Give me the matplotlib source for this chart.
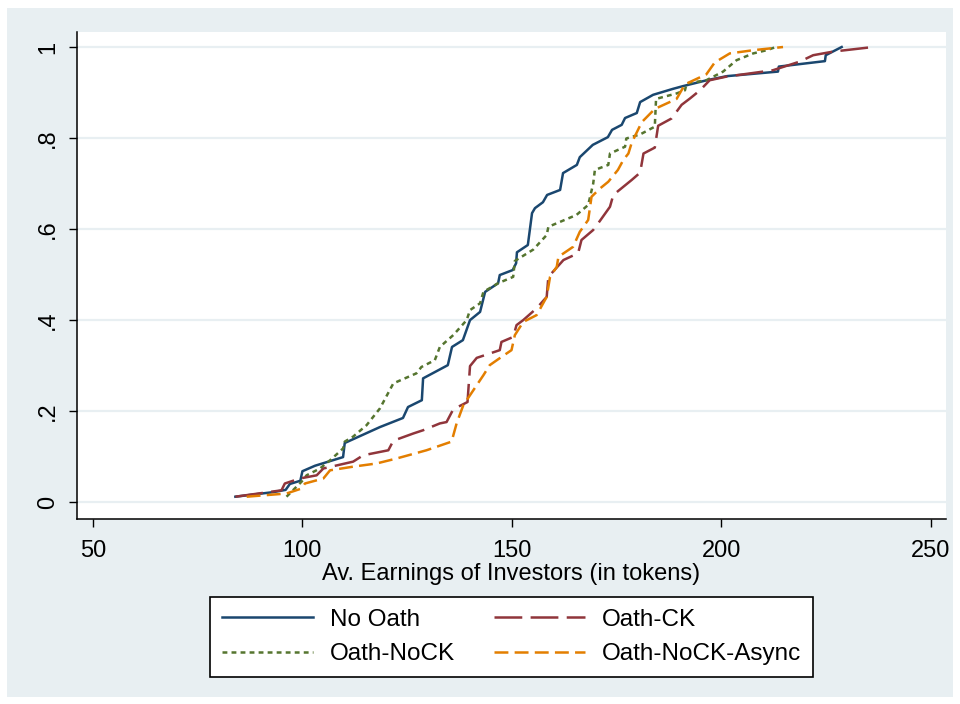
import numpy as np
import matplotlib
matplotlib.use("Agg")
import matplotlib.pyplot as plt
from matplotlib.patches import Rectangle

plt.rcParams['font.family'] = ['Liberation Sans', 'DejaVu Sans']
plt.rcParams['lines.scale_dashes'] = False

#------------------------------------------------------------------
# cumulative distribution of average investor earnings
no_oath_x = [84, 93, 96, 97, 99.5, 100, 103, 109.7, 110.1, 118.5, 124.0, 125.2, 128.5, 128.8,
             134.7, 135.7, 138.3, 140.0, 142.4, 143.6, 146.7, 147.1, 150.2, 151.0, 151.2, 153.8,
             154.8, 155.5, 157.4, 158.4, 161.5, 162.2, 165.5, 166.2, 169.3, 172.9, 173.9, 176.2,
             177.0, 179.8, 180.6, 183.7, 188.4, 190.8, 196.5, 201.3, 213.5, 213.7, 224.7, 224.9, 228.7]
no_oath_y = [0.012, 0.022, 0.027, 0.040, 0.047, 0.068, 0.080, 0.099, 0.130, 0.165, 0.185, 0.209, 0.224, 0.272,
             0.301, 0.341, 0.356, 0.400, 0.418, 0.462, 0.481, 0.499, 0.510, 0.525, 0.549, 0.565,
             0.635, 0.646, 0.659, 0.675, 0.686, 0.723, 0.741, 0.758, 0.785, 0.802, 0.818, 0.829,
             0.844, 0.855, 0.879, 0.895, 0.908, 0.914, 0.927, 0.936, 0.946, 0.957, 0.969, 0.982, 1.0]

oath_ck_x = [84, 95.0, 95.8, 99.4, 103.4, 105.0, 112.1, 114.5, 120.5, 121.7, 126.5, 128.8, 132.8, 134.4,
             136.0, 139.4, 140.0, 141.6, 147.1, 147.5, 150.3, 151.1, 152.7, 155.9, 158.3, 158.7, 162.3,
             165.8, 166.6, 169.4, 171.0, 173.4, 174.2, 178.6, 180.6, 181.4, 184.1, 184.9, 188.1, 190.5,
             192.5, 194.9, 197.2, 201.2, 206.8, 212.3, 218.7, 221.9, 226.7, 236.2]
oath_ck_y = [0.012, 0.026, 0.041, 0.052, 0.059, 0.074, 0.089, 0.103, 0.114, 0.135, 0.151, 0.158, 0.173, 0.176,
             0.204, 0.220, 0.299, 0.317, 0.334, 0.352, 0.363, 0.389, 0.400, 0.426, 0.451, 0.495, 0.532,
             0.547, 0.576, 0.598, 0.618, 0.649, 0.675, 0.708, 0.724, 0.766, 0.779, 0.827, 0.843, 0.873,
             0.887, 0.905, 0.927, 0.935, 0.942, 0.949, 0.968, 0.982, 0.990, 1.0]

oath_nock_x = [96.2, 99.8, 101.0, 104.2, 106.6, 109.7, 110.1, 112.1, 115.3, 118.5, 121.7, 127.2, 128.4,
               131.6, 132.8, 136.0, 139.2, 140.0, 142.4, 143.2, 146.7, 150.3, 150.7, 155.1, 158.3, 158.7,
               165.4, 168.2, 169.4, 169.8, 173.0, 173.4, 177.0, 177.3, 180.6, 184.1, 184.4, 189.3, 191.3,
               191.7, 196.4, 200.4, 203.6, 207.6, 210.8, 213.0]
oath_nock_y = [0.012, 0.045, 0.059, 0.074, 0.092, 0.118, 0.133, 0.144, 0.169, 0.206, 0.261, 0.283, 0.297,
               0.312, 0.341, 0.367, 0.400, 0.422, 0.437, 0.462, 0.481, 0.495, 0.530, 0.555, 0.587, 0.605,
               0.631, 0.653, 0.700, 0.730, 0.741, 0.766, 0.781, 0.799, 0.808, 0.825, 0.886, 0.898, 0.905,
               0.920, 0.927, 0.946, 0.971, 0.986, 0.993, 1.0]

async_x = [86.7, 96.2, 99.8, 100.6, 105.0, 106.6, 112.1, 117.7, 122.5, 129.6, 135.6, 136.8, 138.4, 141.6,
           143.2, 144.7, 147.5, 149.9, 150.7, 152.7, 155.9, 158.3, 159.1, 160.7, 161.1, 164.6, 166.2,
           168.2, 169.0, 171.0, 173.0, 175.3, 176.6, 177.8, 178.6, 181.0, 184.1, 189.3, 191.3, 196.4,
           198.4, 202.0, 207.6, 214.7]
async_y = [0.012, 0.019, 0.030, 0.041, 0.052, 0.070, 0.078, 0.085, 0.096, 0.114, 0.133, 0.173, 0.213, 0.257,
           0.279, 0.301, 0.319, 0.334, 0.367, 0.396, 0.411, 0.451, 0.495, 0.517, 0.539, 0.561, 0.594,
           0.620, 0.671, 0.689, 0.704, 0.730, 0.752, 0.766, 0.790, 0.835, 0.864, 0.886, 0.918, 0.940,
           0.966, 0.986, 0.993, 1.0]

x_ticks = [50, 100, 150, 200, 250]
y_ticks = [0, 0.2, 0.4, 0.6, 0.8, 1]
y_tick_labels = ["0", ".2", ".4", ".6", ".8", "1"]
#------------------------------------------------------------------

BG = '#e8eff2'
FONTSIZE = 17
LW = 1.8

fig = plt.figure(figsize=(9.6, 7.04), dpi=100)
fig.patch.set_facecolor('white')
fig.add_artist(Rectangle((7 / 960, 1 - 697 / 704), 946 / 960, 689 / 704,
                         transform=fig.transFigure, facecolor=BG, edgecolor='none', zorder=-10))

ax = fig.add_axes([77 / 960, 1 - 519 / 704, 869 / 960, 487 / 704])
ax.set_zorder(1)
ax.set_facecolor('white')

ax.plot(no_oath_x, no_oath_y, color='#1a476f', lw=LW, label='No Oath')
ax.plot(oath_nock_x, oath_nock_y, color='#55752f', lw=LW, dashes=(3.5, 3), label='Oath-NoCK')
ax.plot(oath_ck_x, oath_ck_y, color='#90353b', lw=LW, dashes=(20, 6), label='Oath-CK')
ax.plot(async_x, async_y, color='#e37e00', lw=LW, dashes=(10, 4.5), label='Oath-NoCK-Async')

ax.set_xlim(46.2, 253.6)
ax.set_ylim(-0.037, 1.033)
ax.set_xticks(x_ticks)
ax.set_yticks(y_ticks)
ax.set_yticklabels(y_tick_labels, rotation=90, va='center')
ax.tick_params(labelsize=FONTSIZE, length=6, width=1, color='black')
ax.tick_params(axis='x', pad=9)
ax.tick_params(axis='y', pad=7)
ax.yaxis.grid(True, color=BG, lw=1.6)
ax.set_axisbelow(True)
for s in ['top', 'right']:
    ax.spines[s].set_visible(False)
for s in ['left', 'bottom']:
    ax.spines[s].set_linewidth(1.1)

ax.set_xlabel("Av. Earnings of Investors (in tokens)", fontsize=FONTSIZE, labelpad=1)

leg = ax.legend(ncol=2, loc='center', bbox_to_anchor=(511.5 / 960, 1 - 637 / 704),
                bbox_transform=fig.transFigure, fontsize=17.5, frameon=True, fancybox=False,
                edgecolor='black', framealpha=1, handlelength=3.75, handletextpad=0.7,
                columnspacing=1.6, labelspacing=0.5, borderpad=0.5)
leg.get_frame().set_linewidth(1.2)
leg.get_frame().set_facecolor('white')

fig.savefig("out.png", dpi=100, facecolor=fig.get_facecolor())
